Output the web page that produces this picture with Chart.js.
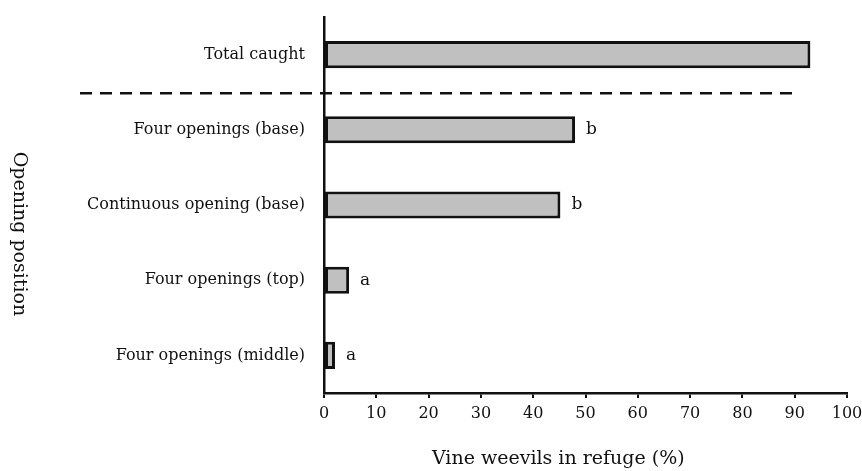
<!DOCTYPE html>
<html>
<head>
<meta charset="utf-8">
<script src="https://cdn.jsdelivr.net/npm/chart.js@4"></script>
<style>
  html, body { margin: 0; padding: 0; background: #fff; }
  #wrap { width: 862px; height: 471px; }
</style>
</head>
<body>
<div id="wrap"><canvas id="myChart" width="862" height="471"></canvas></div>
<script>
const categories = [
    'Total caught',
    'Four openings (base)',
    'Continuous opening (base)',
    'Four openings (top)',
    'Four openings (middle)'
];
const values = [93, 48, 45.2, 4.8, 2.1];
const letters = ['', 'b', 'b', 'a', 'a'];
const xTicks = [0, 10, 20, 30, 40, 50, 60, 70, 80, 90, 100];

const FONT = 'DejaVu Serif';
const INK = '#111';

// dashed separator, letters and the two axis titles
const extras = {
    id: 'extras',
    afterDatasetsDraw(chart) {
        const ctx = chart.ctx;
        const x = chart.scales.x;
        const y = chart.scales.y;
        const meta = chart.getDatasetMeta(0);

        ctx.save();
        // separator between "Total caught" and the rest
        const yy = (y.getPixelForValue(0) + y.getPixelForValue(1)) / 2 + 1;
        ctx.strokeStyle = INK;
        ctx.lineWidth = 2.5;
        ctx.setLineDash([12, 8]);
        ctx.beginPath();
        ctx.moveTo(80, yy);
        ctx.lineTo(x.getPixelForValue(89.5), yy);
        ctx.stroke();
        ctx.setLineDash([]);

        // significance letters
        ctx.fillStyle = INK;
        ctx.font = '17px "' + FONT + '"';
        ctx.textAlign = 'left';
        ctx.textBaseline = 'middle';
        meta.data.forEach((bar, i) => {
            if (letters[i]) ctx.fillText(letters[i], bar.x + 11, bar.y);
        });

        // x title
        ctx.font = '19px "' + FONT + '"';
        ctx.textAlign = 'center';
        ctx.fillText('Vine weevils in refuge (%)', x.getPixelForValue(44.8), 459);

        // y title, reading top to bottom
        ctx.translate(19, 234);
        ctx.rotate(Math.PI / 2);
        ctx.fillText('Opening position', 0, 0);
        ctx.restore();
    }
};

const config = {
    type: 'bar',
    data: {
        labels: categories,
        datasets: [{
            data: values,
            backgroundColor: '#c0c0c0',
            borderColor: INK,
            borderWidth: 3,
            borderSkipped: false,
            barPercentage: 0.36,
            categoryPercentage: 1
        }]
    },
    options: {
        indexAxis: 'y',
        responsive: false,
        animation: false,
        layout: { padding: { top: 17, right: 15, left: 0, bottom: 0 } },
        plugins: {
            legend: { display: false },
            tooltip: { enabled: false }
        },
        scales: {
            x: {
                min: 0,
                max: 100,
                afterBuildTicks: (s) => { s.ticks = xTicks.map(v => ({ value: v })); },
                afterFit: (s) => { s.height = 78; s.paddingLeft = 0; s.paddingRight = 0; },
                border: { display: true, color: INK, width: 2.5 },
                grid: { drawOnChartArea: false, drawTicks: true, tickLength: 5, color: INK, lineWidth: 2 },
                ticks: { color: INK, padding: 6, maxRotation: 0, font: { family: FONT, size: 16 } }
            },
            y: {
                afterFit: (s) => { s.width = 324; s.paddingTop = 0; s.paddingBottom = 0; },
                border: { display: true, color: INK, width: 2.5 },
                grid: { display: false, drawTicks: false },
                ticks: { color: INK, padding: 19, font: { family: FONT, size: 16 } }
            }
        }
    },
    plugins: [extras]
};

new Chart(document.getElementById('myChart'), config);
</script>
</body>
</html>
